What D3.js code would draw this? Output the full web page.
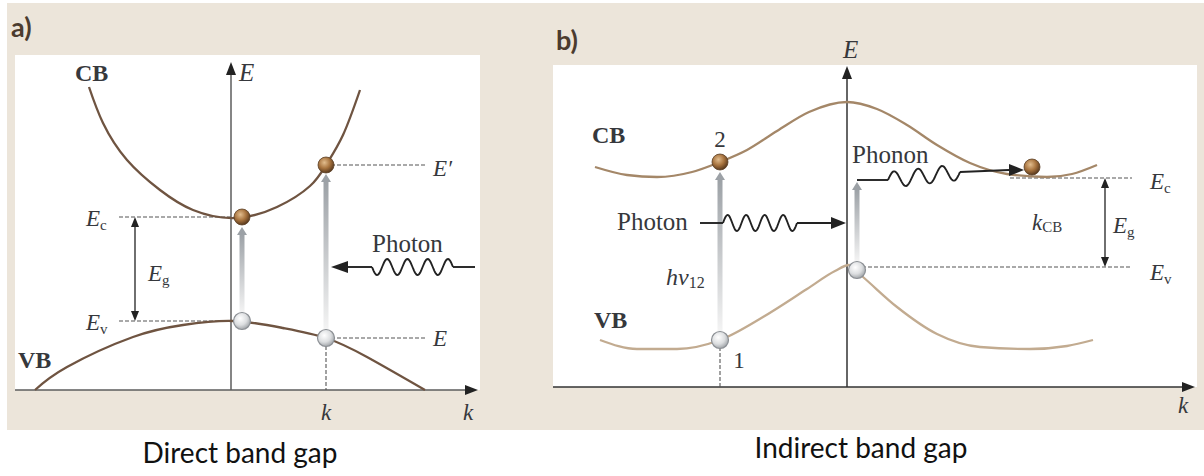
<!DOCTYPE html>
<html><head><meta charset="utf-8">
<script src="https://cdn.jsdelivr.net/npm/d3@7"></script>
<style>
html,body{margin:0;padding:0;background:#fff;}
svg{display:block;}
</style></head><body>
<svg id="chart" width="1204" height="476"></svg>
<script>
// ---- Band curves, points as [k, E] (arbitrary units) ----
const directCB = [[-1.42,3.03],[-1.28,2.67],[-1.04,2.30],[-0.71,2.00],[-0.38,1.80],[0.04,1.72],[0.46,1.83],[0.79,2.04],[0.95,2.25],[1.12,2.55],[1.29,3.00]];
const directVB = [[-1.96,0.00],[-1.64,0.23],[-0.98,0.53],[-0.48,0.65],[0.02,0.69],[0.52,0.62],[0.95,0.52],[1.36,0.33],[1.94,0.00]];
const indirectCB = [[-2.52,2.20],[-2.20,2.12],[-1.90,2.10],[-1.55,2.15],[-1.27,2.25],[-1.00,2.37],[-0.70,2.56],[-0.38,2.75],[0.00,2.85],[0.30,2.78],[0.60,2.62],[0.90,2.42],[1.23,2.24],[1.60,2.13],[2.00,2.10],[2.25,2.13],[2.50,2.22]];
const indirectVB = [[-2.47,0.47],[-2.10,0.38],[-1.70,0.38],[-1.27,0.47],[-0.84,0.70],[-0.40,0.98],[-0.12,1.16],[0.02,1.22],[0.16,1.10],[0.50,0.80],[0.90,0.53],[1.33,0.40],[1.83,0.38],[2.20,0.41],[2.46,0.47]];

// ---- Energy levels: [E, kFrom, kTo] for the dashed guides ----
const directLevels = [[1.73,-1.12,0.02],[0.69,-1.12,0.02],[2.25,1.00,1.94],[0.52,1.00,1.94]];
const indirectLevels = [[2.09,1.63,2.85],[1.20,0.15,2.85]];

// ---- Carriers [k, E] ----
const directElectrons = [[0.11,1.73],[0.95,2.25]];
const directHoles = [[0.11,0.69],[0.95,0.52]];
const indirectElectrons = [[-1.27,2.25],[1.85,2.20]];
const indirectHoles = [[-1.27,0.47],[0.10,1.17]];

// ---- Vertical transitions [k, E from, E tip] ----
const directTransitions = [[0.11,0.69,1.63],[0.95,0.52,2.16]];
const indirectTransitions = [[-1.27,0.47,2.15],[0.10,1.17,2.05]];

// ---- Gap arrows [k, E top, E bottom] ----
const directGap = [-0.96,1.73,0.69];
const indirectGap = [2.58,2.09,1.20];

// ---- Panel titles ----
const panelTags = ["a)","b)"];
const captions = ["Direct band gap","Indirect band gap"];

const svg = d3.select("#chart");
const serif = "'Liberation Serif','DejaVu Serif',serif";
const sans = "Lato,'Open Sans',sans-serif";
const ink = "#36383c";

// background card
svg.append("rect").attr("x",7).attr("y",3).attr("width",1197).attr("height",427).attr("fill","#ece5da");

// ---- defs ----
const defs = svg.append("defs");
const eg = defs.append("radialGradient").attr("id","electron").attr("cx","40%").attr("cy","35%").attr("r","65%");
eg.append("stop").attr("offset","0%").attr("stop-color","#e2bd8e");
eg.append("stop").attr("offset","55%").attr("stop-color","#a8743f");
eg.append("stop").attr("offset","100%").attr("stop-color","#5a3a1e");
const hg = defs.append("radialGradient").attr("id","hole").attr("cx","40%").attr("cy","35%").attr("r","65%");
hg.append("stop").attr("offset","0%").attr("stop-color","#ffffff");
hg.append("stop").attr("offset","60%").attr("stop-color","#dcdee0");
hg.append("stop").attr("offset","100%").attr("stop-color","#a3a7ab");
const tg = defs.append("linearGradient").attr("id","beam").attr("x1",0).attr("y1",1).attr("x2",0).attr("y2",0);
tg.append("stop").attr("offset","0%").attr("stop-color","#f4f4f4");
tg.append("stop").attr("offset","100%").attr("stop-color","#9ca1a6");

// ---- helpers ----
function head(g, x, y, dir, len, hw, fill) {
  let p;
  if (dir === "up") p = [[x,y],[x-hw,y+len],[x+hw,y+len]];
  else if (dir === "down") p = [[x,y],[x-hw,y-len],[x+hw,y-len]];
  else if (dir === "right") p = [[x,y],[x-len,y-hw],[x-len,y+hw]];
  else p = [[x,y],[x+len,y-hw],[x+len,y+hw]];
  g.append("path").attr("d","M"+p.map(q=>q.join(",")).join("L")+"Z").attr("fill",fill);
}
function label(g, x, y, main, o = {}) {
  const t = g.append("text").attr("x",x).attr("y",y)
    .attr("font-family",o.family||serif).attr("font-size",o.size||23)
    .attr("fill",o.fill||ink).attr("text-anchor",o.anchor||"start")
    .attr("font-weight",o.bold?"bold":"normal");
  t.append("tspan").attr("font-style",o.italic?"italic":"normal").text(main);
  if (o.sub) t.append("tspan").attr("font-size",o.subSize||15).attr("dy",o.subDy||4)
      .attr("font-style",o.subItalic?"italic":"normal").text(o.sub);
  return t;
}
function wave(g, x0, x1, y0, y1, amp, n, color, w) {
  const pts = d3.range(0, 101).map(i => {
    const t = i/100;
    return [x0 + (x1-x0)*t, y0 + (y1-y0)*t - amp*Math.sin(2*Math.PI*n*t)];
  });
  g.append("path").attr("d", d3.line()(pts)).attr("fill","none").attr("stroke",color).attr("stroke-width",w);
}
function dashed(g, x0, y0, x1, y1) {
  g.append("line").attr("x1",x0).attr("y1",y0).attr("x2",x1).attr("y2",y1)
    .attr("stroke","#555").attr("stroke-width",1.1).attr("stroke-dasharray","4,2");
}
function drawPanel(cfg) {
  const g = svg.append("g");
  const x = cfg.x, y = cfg.y;
  const [X0, X1] = x.range(), [Y0, Y1] = y.range();
  g.append("rect").attr("x",X0).attr("y",Y1).attr("width",X1-X0).attr("height",Y0-Y1).attr("fill","#fff");

  const line = d3.line().x(d=>x(d[0])).y(d=>y(d[1])).curve(cfg.curve);
  // axes
  g.append("line").attr("x1",X0).attr("x2",X1-6).attr("y1",y(0)).attr("y2",y(0)).attr("stroke",cfg.axis).attr("stroke-width",1.5);
  head(g, X1-2, y(0), "right", 13, 5, "#222");
  g.append("line").attr("x1",x(0)).attr("x2",x(0)).attr("y1",y(0)).attr("y2",cfg.axisTop+6).attr("stroke",cfg.axis).attr("stroke-width",1.5);
  head(g, x(0), cfg.axisTop, "up", 13, 5, "#222");

  // dashed guides
  cfg.levels.forEach(d => dashed(g, x(d[1]), y(d[0]), x(d[2]), y(d[0])));
  cfg.drops.forEach(d => dashed(g, x(d[0]), y(d[1]), x(d[0]), y(0)));

  // bands
  g.append("path").attr("d",line(cfg.cb)).attr("fill","none").attr("stroke",cfg.cbColor).attr("stroke-width",2.3);
  g.append("path").attr("d",line(cfg.vb)).attr("fill","none").attr("stroke",cfg.vbColor).attr("stroke-width",2.3);

  // gap arrow
  const [gk, gt, gb] = cfg.gap;
  g.append("line").attr("x1",x(gk)).attr("x2",x(gk)).attr("y1",y(gt)+8).attr("y2",y(gb)-8).attr("stroke","#222").attr("stroke-width",1.3);
  head(g, x(gk), y(gt), "up", 10, 4, "#222");
  head(g, x(gk), y(gb), "down", 10, 4, "#222");

  // vertical transitions
  cfg.transitions.forEach(d => {
    const xs = x(d[0]), yb = y(d[1]) - 8, yt = y(d[2]);
    g.append("rect").attr("x",xs-2.5).attr("y",yt+7).attr("width",5).attr("height",yb-yt-7).attr("fill","url(#beam)");
    head(g, xs, yt, "up", 8, 5, "#9ca1a6");
  });

  // carriers
  cfg.holes.forEach(d => g.append("circle").attr("cx",x(d[0])).attr("cy",y(d[1])).attr("r",8.5)
    .attr("fill","url(#hole)").attr("stroke","#8b8f94").attr("stroke-width",1.2));
  cfg.electrons.forEach(d => g.append("circle").attr("cx",x(d[0])).attr("cy",y(d[1])).attr("r",8)
    .attr("fill","url(#electron)").attr("stroke","#5b3f24").attr("stroke-width",0.8));
  return g;
}

// ---- Panel a: direct gap ----
const xA = d3.scaleLinear().domain([-2.16, 2.49]).range([15, 480]);
const yA = d3.scaleLinear().domain([0, 3.35]).range([390, 55]);
const gA = drawPanel({x:xA, y:yA, axisTop:62, axis:"#5c5c5c", cb:directCB, vb:directVB, curve:d3.curveNatural,
  cbColor:"#6f5441", vbColor:"#6f5441", levels:directLevels, drops:[[0.95,0.44]], gap:directGap,
  transitions:directTransitions, holes:directHoles, electrons:directElectrons});

// photon coming in from the right
wave(gA, xA(2.22), xA(1.41), yA(1.23), yA(1.23), 8, 4, "#222", 1.9);
gA.append("line").attr("x1",xA(2.44)).attr("x2",xA(2.22)).attr("y1",yA(1.23)).attr("y2",yA(1.23)).attr("stroke","#222").attr("stroke-width",1.9);
gA.append("line").attr("x1",xA(1.41)).attr("x2",xA(1.12)).attr("y1",yA(1.23)).attr("y2",yA(1.23)).attr("stroke","#222").attr("stroke-width",1.9);
head(gA, xA(1.0), yA(1.23), "left", 17, 6, "#222");

label(gA, xA(-1.56), yA(3.09), "CB", {size:24, bold:true});
label(gA, xA(-2.13), yA(0.22), "VB", {size:24, bold:true});
label(gA, xA(0.08), yA(3.09), "E", {size:25, italic:true});
label(gA, xA(-1.45), yA(1.64), "E", {italic:true, sub:"c"});
label(gA, xA(-1.45), yA(0.60), "E", {italic:true, sub:"v"});
label(gA, xA(-0.83), yA(1.09), "E", {italic:true, sub:"g"});
label(gA, xA(2.02), yA(2.14), "E\u2032", {italic:true});
label(gA, xA(2.02), yA(0.44), "E", {italic:true});
label(gA, xA(1.41), yA(1.38), "Photon", {size:25});
label(gA, xA(0.95), yA(-0.30), "k", {italic:true, anchor:"middle"});
label(gA, xA(2.37), yA(-0.30), "k", {italic:true, anchor:"middle"});

// ---- Panel b: indirect gap ----
const xB = d3.scaleLinear().domain([-2.94, 3.50]).range([553, 1197]);
const yB = d3.scaleLinear().domain([0, 3.22]).range([387, 65]);
const gB = drawPanel({x:xB, y:yB, axisTop:66, axis:"#333", cb:indirectCB, vb:indirectVB, curve:d3.curveMonotoneX,
  cbColor:"#a48768", vbColor:"#c2ab90", levels:indirectLevels, drops:[[-1.27,0.40]], gap:indirectGap,
  transitions:indirectTransitions, holes:indirectHoles, electrons:indirectElectrons});

// photon from the left
gB.append("line").attr("x1",xB(-1.47)).attr("x2",xB(-1.24)).attr("y1",yB(1.64)).attr("y2",yB(1.64)).attr("stroke","#222").attr("stroke-width",1.9);
wave(gB, xB(-1.24), xB(-0.50), yB(1.64), yB(1.64), 8, 4, "#222", 1.9);
gB.append("line").attr("x1",xB(-0.50)).attr("x2",xB(-0.14)).attr("y1",yB(1.64)).attr("y2",yB(1.64)).attr("stroke","#222").attr("stroke-width",1.9);
head(gB, xB(-0.01), yB(1.64), "right", 15, 6, "#222");

// phonon-assisted path
gB.append("line").attr("x1",xB(0.10)).attr("x2",xB(0.41)).attr("y1",yB(2.07)).attr("y2",yB(2.07)).attr("stroke","#222").attr("stroke-width",1.9);
wave(gB, xB(0.41), xB(1.13), yB(2.07), yB(2.15), 8, 3, "#222", 1.9);
gB.append("line").attr("x1",xB(1.13)).attr("x2",xB(1.62)).attr("y1",yB(2.15)).attr("y2",yB(2.17)).attr("stroke","#222").attr("stroke-width",1.9);
head(gB, xB(1.77), yB(2.17), "right", 15, 6, "#222");

label(gB, xB(-2.55), yB(2.44), "CB", {size:24, bold:true});
label(gB, xB(-2.53), yB(0.59), "VB", {size:24, bold:true});
label(gB, xB(-0.04), yB(3.29), "E", {size:25, italic:true});
label(gB, xB(-1.27), yB(2.40), "2", {anchor:"middle"});
label(gB, xB(-1.08), yB(0.19), "1", {anchor:"middle"});
label(gB, xB(0.05), yB(2.24), "Phonon", {size:25});
label(gB, xB(-2.30), yB(1.57), "Photon", {size:25});
label(gB, xB(-1.81), yB(1.02), "h\u03bd", {italic:true, size:24, sub:"12", subSize:16, subDy:3});
label(gB, xB(1.85), yB(1.57), "k", {italic:true, sub:"CB", subSize:15, subDy:2});
label(gB, xB(2.66), yB(1.54), "E", {italic:true, sub:"g"});
label(gB, xB(3.03), yB(1.98), "E", {italic:true, sub:"c"});
label(gB, xB(3.03), yB(1.07), "E", {italic:true, sub:"v"});
label(gB, xB(3.36), yB(-0.26), "k", {italic:true, anchor:"middle"});

// ---- tags and captions ----
svg.append("text").attr("x",11).attr("y",37).attr("font-family",sans).attr("font-weight","bold")
  .attr("font-size",27).attr("fill","#4b3b2e").text(panelTags[0]);
svg.append("text").attr("x",556).attr("y",50).attr("font-family",sans).attr("font-weight","bold")
  .attr("font-size",27).attr("fill","#4b3b2e").text(panelTags[1]);
svg.append("text").attr("x",240).attr("y",463).attr("text-anchor","middle").attr("font-family",sans)
  .attr("font-size",28).attr("fill","#111").text(captions[0]);
svg.append("text").attr("x",861).attr("y",458).attr("text-anchor","middle").attr("font-family",sans)
  .attr("font-size",28).attr("fill","#111").text(captions[1]);
</script>
</body></html>
